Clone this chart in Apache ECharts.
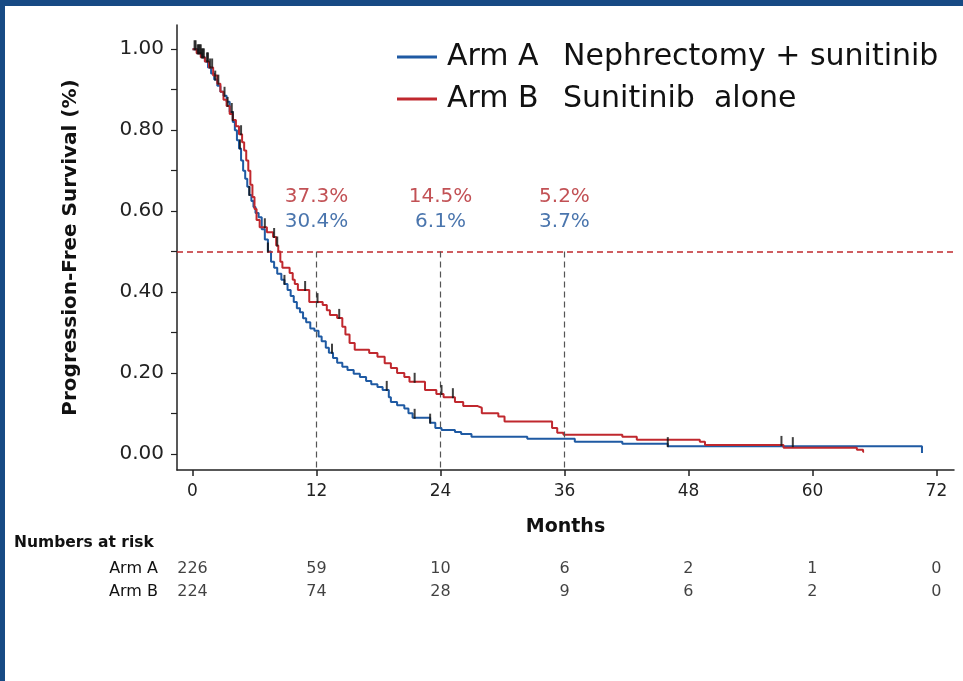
<!DOCTYPE html>
<html><head><meta charset="utf-8">
<script src="https://cdn.jsdelivr.net/npm/echarts@6/dist/echarts.min.js"></script>
<style>html,body{margin:0;padding:0;background:#fff}#c{width:963px;height:681px}</style>
</head><body><div id="c"></div>
<script>
// ---- data ----
const armATimes = [0,0.5,0.9,1.2,1.5,1.8,2.1,2.4,2.7,3.0,3.3,3.6,3.9,4.1,4.3,4.5,4.7,4.9,5.1,5.3,5.5,5.7,5.9,6.1,6.4,6.7,7.0,7.3,7.6,7.9,8.2,8.6,8.9,9.2,9.5,9.8,10.1,10.4,10.7,11.0,11.4,11.8,12.2,12.5,12.9,13.2,13.6,14.0,14.5,15.0,15.6,16.2,16.8,17.3,17.9,18.4,19.0,19.2,19.8,20.5,20.9,21.3,23.0,23.5,24.1,25.4,26.0,27.0,32.4,37.0,41.6,46.0,70.6,70.6];
const armASurv  = [1.0,0.99,0.98,0.97,0.955,0.94,0.925,0.91,0.895,0.885,0.87,0.845,0.82,0.80,0.775,0.755,0.725,0.70,0.68,0.66,0.64,0.625,0.61,0.595,0.585,0.555,0.53,0.50,0.475,0.46,0.445,0.43,0.42,0.405,0.39,0.375,0.36,0.35,0.335,0.325,0.31,0.304,0.29,0.278,0.262,0.25,0.237,0.225,0.215,0.207,0.198,0.19,0.18,0.172,0.165,0.158,0.14,0.128,0.12,0.112,0.10,0.089,0.077,0.064,0.059,0.054,0.049,0.042,0.037,0.03,0.025,0.019,0.019,0.002];
const armBTimes = [0,0.4,0.8,1.2,1.6,2.0,2.4,2.7,3.0,3.3,3.6,3.9,4.2,4.5,4.8,5.0,5.2,5.4,5.6,5.8,6.0,6.2,6.5,7.2,7.8,8.1,8.3,8.5,8.7,9.4,9.7,9.9,10.2,11.3,12.6,13.0,13.3,14.0,14.5,14.8,15.2,15.7,17.1,17.9,18.6,19.2,19.8,20.5,21.0,22.5,23.6,24.3,25.4,26.2,27.6,28.0,29.6,30.2,34.8,35.3,35.9,41.6,43.0,49.1,49.6,57.2,64.3,64.9,65.0];
const armBSurv  = [1.0,0.99,0.98,0.97,0.955,0.935,0.915,0.895,0.875,0.86,0.84,0.825,0.81,0.79,0.77,0.75,0.725,0.70,0.665,0.635,0.605,0.578,0.56,0.548,0.536,0.515,0.50,0.475,0.46,0.447,0.43,0.42,0.405,0.375,0.368,0.355,0.343,0.336,0.314,0.295,0.274,0.257,0.249,0.24,0.224,0.212,0.20,0.19,0.178,0.158,0.148,0.14,0.128,0.118,0.114,0.10,0.092,0.08,0.064,0.052,0.047,0.042,0.035,0.03,0.022,0.015,0.01,0.005,0.005];
const censorATimes = [0.3,0.6,0.8,1.0,1.4,1.7,2.2,3.1,3.8,4.6,5.5,7.3,8.9,13.5,18.8,21.5,23.0,46.0,58.1];
const censorBTimes = [0.2,0.5,0.7,0.9,1.1,1.5,1.9,2.5,3.4,3.9,4.7,7.0,7.9,8.2,10.9,12.1,14.2,21.5,24.1,25.2,57.0];
const xTicks = [0,12,24,36,48,60,72];
const yLabelTicks = [0,0.2,0.4,0.6,0.8,1.0];
const yMinorTicks = [0,0.1,0.2,0.3,0.4,0.5,0.6,0.7,0.8,0.9,1.0];
const annotMonths = [12,24,36];
const annotB = ['37.3%','14.5%','5.2%'];
const annotA = ['30.4%','6.1%','3.7%'];
const riskMonths = [0,12,24,36,48,60,72];
const riskA = [226,59,10,6,2,1,0];
const riskB = [224,74,28,9,6,2,0];
const medianLevel = 0.5;

// ---- helpers ----
const BLUE = '#1f5aa3', RED = '#c0282e', RED_TXT = '#b3252b', BLUE_TXT = '#1d5299';
const FONT = 'DejaVu Sans, Liberation Sans, Arial, sans-serif';
const XMIN = -1.5, XMAX = 73.7, YMIN = -0.04, YMAX = 1.06;
function pairs(t, s){ return t.map((v,i)=>[v, s[i]]); }
function survAt(t, s, x){ let v = s[0]; for (let i=0;i<t.length;i++){ if (t[i] <= x) v = s[i]; } return v; }

const chart = echarts.init(document.getElementById('c'), null, {renderer:'canvas'});
const option = {
  backgroundColor: '#fff',
  animation: false,
  textStyle: {fontFamily: FONT},
  graphic: [
    {type:'rect', shape:{x:0,y:0,width:963,height:6}, style:{fill:'#174a84'}, z:100},
    {type:'rect', shape:{x:0,y:0,width:5,height:681}, style:{fill:'#174a84'}, z:100},
    {type:'text', left:14, top:535, style:{text:'Numbers at risk', font:'bold 15.5px ' + FONT, fill:'#111'}}
  ],
  legend: {
    data: ['Arm A','Arm B'],
    orient: 'vertical', left: 392, top: 37,
    icon: 'rect', itemWidth: 40, itemHeight: 3, itemGap: 12,
    formatter: function(name){
      return '{a|' + name + '}{b|' + (name === 'Arm A' ? 'Nephrectomy + sunitinib' : 'Sunitinib  alone') + '}';
    },
    textStyle: {rich: {a:{fontSize:30, width:116, padding:[0,0,0,5], color:'#111', fontFamily:FONT}, b:{fontSize:30, color:'#111', fontFamily:FONT}}}
  },
  grid: [
    {left:177, right:9, top:25, bottom:211},
    {left:177, right:9, top:557, height:46}
  ],
  xAxis: [
    {gridIndex:0, type:'value', min:XMIN, max:XMAX,
     name:'Months', nameLocation:'middle', nameGap:48,
     nameTextStyle:{fontSize:19, fontWeight:'bold', color:'#111', fontFamily:FONT},
     axisLine:{onZero:false, lineStyle:{color:'#222', width:1.5}},
     axisTick:{show:true, length:6, lineStyle:{color:'#222', width:1.5}, customValues:xTicks},
     axisLabel:{customValues:xTicks, fontSize:17, color:'#222', margin:13, fontFamily:FONT},
     splitLine:{show:false}},
    {gridIndex:1, type:'value', min:XMIN, max:XMAX, show:false}
  ],
  yAxis: [
    {gridIndex:0, type:'value', min:YMIN, max:YMAX,
     name:'Progression-Free Survival (%)', nameLocation:'middle', nameGap:96,
     nameTextStyle:{fontSize:20, fontWeight:'bold', color:'#111', fontFamily:FONT},
     axisLine:{show:true, onZero:false, lineStyle:{color:'#222', width:1.5}},
     axisTick:{show:true, length:6, lineStyle:{color:'#222', width:1.2}, customValues:yMinorTicks},
     axisLabel:{customValues:yLabelTicks, fontSize:20, color:'#222', margin:13, fontFamily:FONT, formatter:v=>v.toFixed(2)},
     splitLine:{show:false}},
    {gridIndex:1, type:'category', data:['Arm A','Arm B'], inverse:true,
     axisLine:{show:false}, axisTick:{show:false},
     axisLabel:{fontSize:16, color:'#111', margin:19, fontFamily:FONT}}
  ],
  series: [
    {name:'Arm A', type:'line', step:'end', showSymbol:false, data:pairs(armATimes, armASurv),
     lineStyle:{color:BLUE, width:2}, itemStyle:{color:BLUE}, z:3},
    {name:'Arm B', type:'line', step:'end', showSymbol:false, data:pairs(armBTimes, armBSurv),
     lineStyle:{color:RED, width:2}, itemStyle:{color:RED}, z:3},
    {name:'censorA', type:'scatter', symbol:'rect', symbolSize:[2,10], symbolOffset:[0,-4],
     itemStyle:{color:'#111'}, z:5, silent:true,
     data:censorATimes.map(t=>[t, survAt(armATimes, armASurv, t)])},
    {name:'censorB', type:'scatter', symbol:'rect', symbolSize:[2,10], symbolOffset:[0,-4],
     itemStyle:{color:'#111'}, z:5, silent:true,
     data:censorBTimes.map(t=>[t, survAt(armBTimes, armBSurv, t)])},
    {name:'refs', type:'line', data:[], silent:true,
     markLine:{silent:true, symbol:['none','none'], label:{show:false},
       data:[
         [{coord:[XMIN, medianLevel], lineStyle:{color:RED, type:[6,4], width:1.5}}, {coord:[XMAX, medianLevel]}],
         ...annotMonths.map(m=>[{coord:[m, medianLevel], lineStyle:{color:'#555', type:[6,4], width:1.2}}, {coord:[m, YMIN]}])
       ]}},
    {name:'annotB', type:'scatter', symbolSize:1, itemStyle:{color:'rgba(0,0,0,0)'}, silent:true,
     data:annotMonths.map((m,i)=>[m, 0.635, annotB[i]]),
     label:{show:true, position:'inside', formatter:p=>p.value[2], fontSize:20, color:RED_TXT, fontFamily:FONT}},
    {name:'annotA', type:'scatter', symbolSize:1, itemStyle:{color:'rgba(0,0,0,0)'}, silent:true,
     data:annotMonths.map((m,i)=>[m, 0.573, annotA[i]]),
     label:{show:true, position:'inside', formatter:p=>p.value[2], fontSize:20, color:BLUE_TXT, fontFamily:FONT}},
    {name:'riskTable', type:'scatter', xAxisIndex:1, yAxisIndex:1, symbolSize:1,
     itemStyle:{color:'rgba(0,0,0,0)'}, silent:true,
     data:[...riskMonths.map((m,i)=>[m, 0, riskA[i]]), ...riskMonths.map((m,i)=>[m, 1, riskB[i]])],
     label:{show:true, position:'inside', formatter:p=>String(p.value[2]), fontSize:16, color:'#111', fontFamily:FONT}}
  ]
};
chart.setOption(option);
</script></body></html>
